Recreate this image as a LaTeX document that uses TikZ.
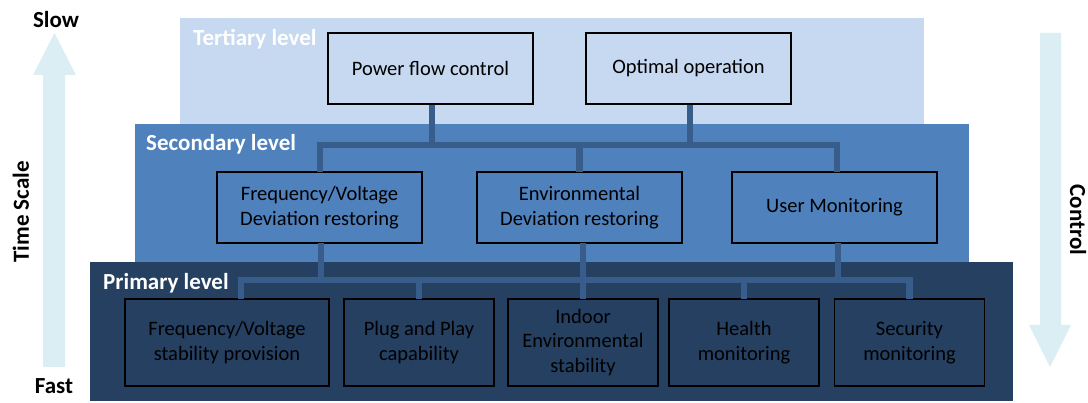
\documentclass[tikz,border=0pt]{standalone}
\usepackage{fontspec}
\setmainfont{Carlito}
\definecolor{tertc}{HTML}{C6D9F1}
\definecolor{secc}{HTML}{4F81BD}
\definecolor{primc}{HTML}{254061}
\definecolor{connc}{HTML}{385D8A}
\definecolor{arrc}{HTML}{DAEEF3}
\begin{document}
\begin{tikzpicture}[x=1pt,y=-1pt,
  box/.style={draw=black,line width=1.5pt,align=center,inner sep=0pt,
    font=\fontsize{20.5}{24.6}\selectfont,text=black,minimum height=71pt,minimum width=205pt},
  pbox/.style={box,minimum height=87pt,minimum width=150pt},
  lvl/.style={anchor=west,inner sep=0pt,text=white,font=\fontsize{23}{27}\selectfont\bfseries},
  side/.style={inner sep=0pt,text=black,font=\fontsize{23}{27}\selectfont\bfseries},
  conn/.style={draw=connc,line width=6.5pt,line cap=butt,line join=miter}]
\useasboundingbox (0,0) rectangle (1088,403);
% layers
\fill[tertc] (180,18) rectangle (924,124);
\fill[secc] (135,124) rectangle (969,262);
\fill[primc] (90,262) rectangle (1013,401);
% arrows
\fill[arrc] (43,367) -- (43,75) -- (33,75) -- (54.5,33) -- (76,75) -- (65,75) -- (65,367) -- cycle;
\fill[arrc] (1040,33) -- (1040,325) -- (1029,325) -- (1050,367) -- (1071,325) -- (1061,325) -- (1061,33) -- cycle;
% side labels
\node[side] (slow) at (56,20) {Slow};
\node[side] (fast) at (54,386) {Fast};
\node[side,rotate=90] (ts) at (21,212) {Time Scale};
\node[side,rotate=-90] (ctl) at (1078,220) {Control};
% level labels
\node[lvl] (tl) at (193,39) {Tertiary level};
\node[lvl] (sl) at (146,144) {Secondary level};
\node[lvl] (pl) at (103,283) {Primary level};
% bus coordinates
\coordinate (sbus) at (0,145);
\coordinate (pbus) at (0,280);
% boxes
\node[box] (pfc) at (430.5,68.5) {Power flow control};
\node[box] (opt) at (688.5,68.5) {Optimal operation};
\node[box] (fv) at (319.5,207.5) {Frequency/Voltage\\Deviation restoring};
\node[box] (env) at (579.5,207.5) {Environmental\\Deviation restoring};
\node[box] (usr) at (834.5,207.5) {User Monitoring};
\node[pbox,minimum width=204pt] (p1) at (227,342.5) {Frequency/Voltage\\stability provision};
\node[pbox] (p2) at (419,342.5) {Plug and Play\\capability};
\node[pbox] (p3) at (583,342.5) {Indoor\\Environmental\\stability};
\node[pbox] (p4) at (744,342.5) {Health\\monitoring};
\node[pbox] (p5) at (909.5,342.5) {Security\\monitoring};
% secondary connectors
\draw[conn] ([xshift=1.5pt]pfc.south) -- ([xshift=1.5pt]pfc.south |- sbus);
\draw[conn] ([xshift=1.5pt]opt.south) -- ([xshift=1.5pt]opt.south |- sbus);
\draw[conn] ([xshift=0.5pt,yshift=-0.75pt]fv.north) -- ([xshift=0.5pt]fv.north |- sbus) -- ([xshift=2.5pt]usr.north |- sbus) -- ([xshift=2.5pt,yshift=-0.75pt]usr.north);
\draw[conn] ([yshift=-0.75pt]env.north) -- (env.north |- sbus);
% primary connectors
\draw[conn] ([xshift=1.5pt,yshift=0.75pt]fv.south) -- ([xshift=1.5pt]fv.south |- pbus);
\draw[conn] ([xshift=3.5pt,yshift=0.75pt]env.south) -- ([xshift=3.5pt]env.south |- pbus);
\draw[conn] ([xshift=3.5pt,yshift=0.75pt]usr.south) -- ([xshift=3.5pt]usr.south |- pbus);
\draw[conn] ([xshift=14pt,yshift=-0.75pt]p1.north) -- ([xshift=14pt]p1.north |- pbus) -- (p5.north |- pbus) -- ([yshift=-0.75pt]p5.north);
\draw[conn] ([yshift=-0.75pt]p2.north) -- (p2.north |- pbus);
\draw[conn] ([yshift=-0.75pt]p3.north) -- (p3.north |- pbus);
\draw[conn] ([yshift=-0.75pt]p4.north) -- (p4.north |- pbus);
\end{tikzpicture}
\end{document}
